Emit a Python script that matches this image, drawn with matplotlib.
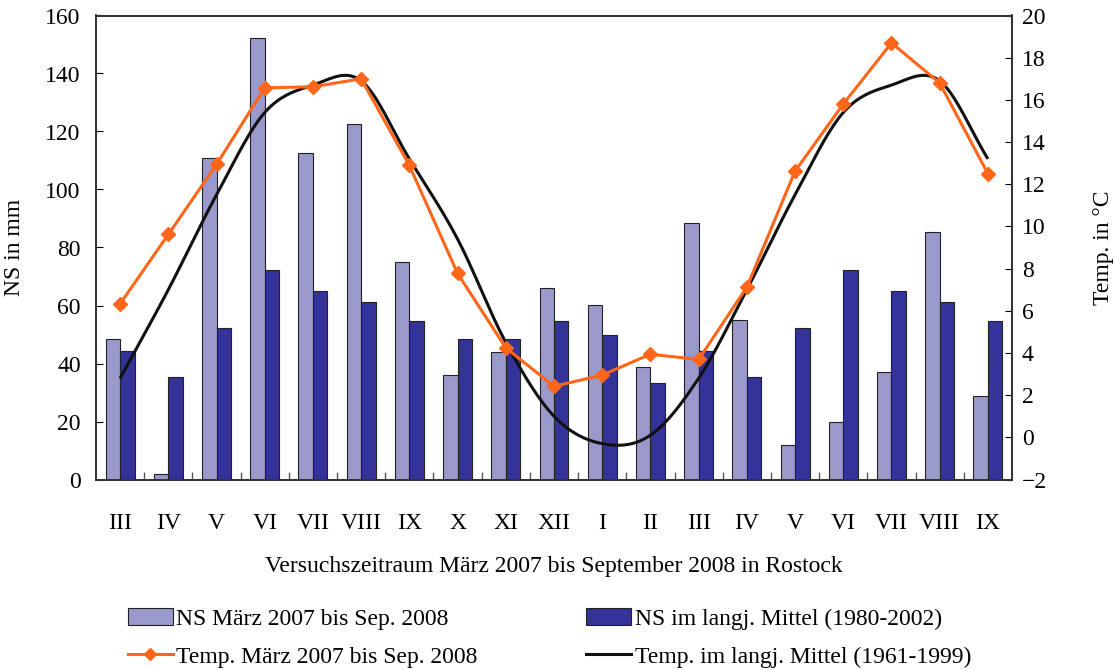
import numpy as np
import matplotlib
matplotlib.use('Agg')
import matplotlib.pyplot as plt
from matplotlib.lines import Line2D
from matplotlib.patches import Patch

plt.rcParams['font.family'] = ['Liberation Serif', 'DejaVu Serif']
plt.rcParams['font.size'] = 17

months = ['III', 'IV', 'V', 'VI', 'VII', 'VIII', 'IX', 'X', 'XI', 'XII',
          'I', 'II', 'III', 'IV', 'V', 'VI', 'VII', 'VIII', 'IX']
ns_0708 = [48.6, 2.0, 110.9, 152.3, 112.5, 122.6, 75.1, 36.0, 43.8, 66.2,
           60.1, 38.7, 88.5, 54.9, 12.0, 19.8, 37.1, 85.3, 28.7]
ns_mittel = [44.4, 35.4, 52.2, 72.3, 65.1, 61.1, 54.5, 48.3, 48.3, 54.5,
             50.0, 33.2, 44.4, 35.4, 52.2, 72.3, 65.1, 61.1, 54.5]
temp_0708 = [6.33, 9.62, 12.94, 16.57, 16.62, 17.0, 12.89, 7.77, 4.24, 2.42,
             2.95, 3.94, 3.69, 7.12, 12.62, 15.8, 18.7, 16.8, 12.5]
temp_mittel = [2.8, 7.0, 11.5, 15.4, 16.7, 16.9, 13.2, 9.4, 4.5, 1.0,
               -0.3, 0.1, 2.8, 7.0, 11.5, 15.4, 16.7, 16.9, 13.2]

light = '#9999CC'
dark = '#333399'
orange = '#FF6619'


def smooth(xs, ys, n=20):
    # Catmull-Rom curve through the points (like a "smoothed line" chart)
    xs = np.asarray(xs, float)
    ys = np.asarray(ys, float)
    px = np.concatenate([[2 * xs[0] - xs[1]], xs, [2 * xs[-1] - xs[-2]]])
    py = np.concatenate([[2 * ys[0] - ys[1]], ys, [2 * ys[-1] - ys[-2]]])
    out_x, out_y = [], []
    t = np.linspace(0, 1, n, endpoint=False)
    for i in range(1, len(px) - 2):
        for p, out in ((px, out_x), (py, out_y)):
            p0, p1, p2, p3 = p[i - 1], p[i], p[i + 1], p[i + 2]
            m1 = (p2 - p0) / 2
            m2 = (p3 - p1) / 2
            h00 = 2 * t**3 - 3 * t**2 + 1
            h10 = t**3 - 2 * t**2 + t
            h01 = -2 * t**3 + 3 * t**2
            h11 = t**3 - t**2
            out.extend(h00 * p1 + h10 * m1 + h01 * p2 + h11 * m2)
    out_x.append(xs[-1])
    out_y.append(ys[-1])
    return np.array(out_x), np.array(out_y)


fig = plt.figure(figsize=(11.15, 6.7), dpi=100)
ax = fig.add_axes([96 / 1115, 1 - 479.5 / 670, 916 / 1115, 464 / 670])
ax2 = ax.twinx()

x = np.arange(len(months))
w = 0.3
ax.bar(x - w / 2, ns_0708, w, color=light, edgecolor='#222222', linewidth=0.8)
ax.bar(x + w / 2, ns_mittel, w, color=dark, edgecolor='#222222', linewidth=0.8)

sx, sy = smooth(x, temp_mittel)
ax2.plot(sx, sy, color='#111111', lw=2.2, solid_capstyle='butt')
ax2.plot(x, temp_0708, color=orange, lw=2.2, marker='D', ms=7, mec=orange)

ax.set_xlim(-0.5, len(months) - 0.5)
ax.set_ylim(0, 160)
ax2.set_ylim(-2, 20)
ax.set_yticks(range(0, 161, 20))
ax2.set_yticks(range(-2, 21, 2))

ax.set_xticks(x)
ax.set_xticklabels(months)
ax.set_xticks(np.arange(0.5, len(months) - 1, 1), minor=True)
ax.tick_params(axis='x', which='major', length=0, pad=24)
ax.tick_params(axis='x', which='minor', direction='in', length=6, width=1, color='#555555')
ax.tick_params(axis='y', direction='in', length=5, pad=11)
ax2.tick_params(axis='y', direction='in', length=5, pad=7)

for a in (ax, ax2):
    for s in a.spines.values():
        s.set_linewidth(1.3)
        s.set_color('#333333')

ax.set_ylabel('NS in mm')
ax.yaxis.set_label_coords(-0.078, 0.5)
ax2.set_ylabel('Temp. in °C')
ax2.yaxis.set_label_coords(1.088, 0.5)
ax.set_xlabel('Versuchszeitraum März 2007 bis September 2008 in Rostock', labelpad=16)

handles = [Patch(facecolor=light, edgecolor='#222222', linewidth=0.8),
           Line2D([], [], color=orange, lw=2.2, marker='D', ms=6, mec=orange),
           Patch(facecolor=dark, edgecolor='#222222', linewidth=0.8),
           Line2D([], [], color='#111111', lw=2.2)]
labels = ['NS März 2007 bis Sep. 2008', 'Temp. März 2007 bis Sep. 2008',
          'NS im langj. Mittel (1980-2002)', 'Temp. im langj. Mittel (1961-1999)']
fig.legend(handles, labels, ncol=2, frameon=False, loc='upper left',
           bbox_to_anchor=(128 / 1115, 1 - 608 / 670), borderpad=0,
           borderaxespad=0, handlelength=1.9, handletextpad=0.15,
           columnspacing=4.6, labelspacing=0.7)

fig.savefig('out.png', dpi=100)
